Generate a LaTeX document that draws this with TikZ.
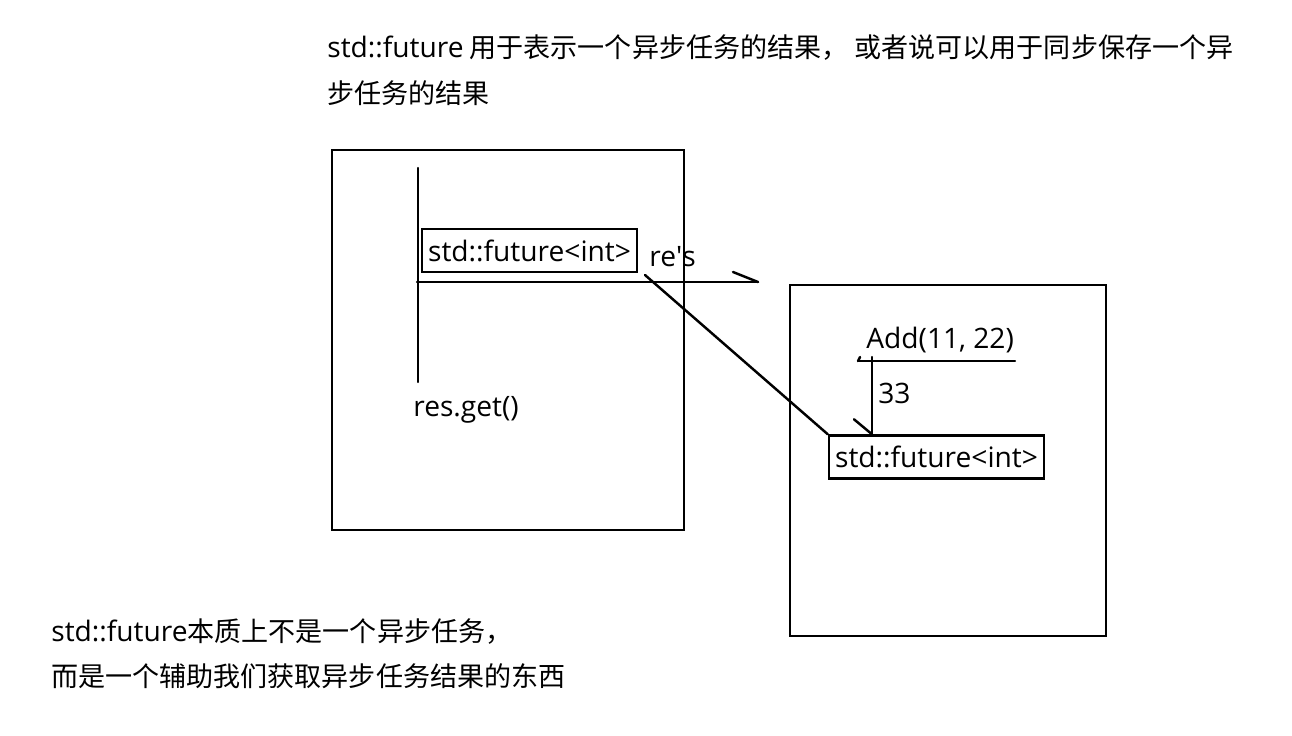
\documentclass[tikz,border=0pt]{standalone}
\usepackage{fontspec}
\setmainfont{Noto Sans CJK SC}
\newfontfamily\lat[Scale=1.04]{Open Sans}
\usepackage{tikz}
\usetikzlibrary{calc,arrows.meta,shapes.geometric}

\tikzset{
  pen/.style={line width=1.4pt, line cap=round},
  txt/.style={font=\fontsize{15.4pt}{18pt}\selectfont, inner sep=0pt, anchor=west},
  futbox/.style={draw, line width=1.4pt, inner sep=0pt, minimum width=4.3cm,
    minimum height=0.86cm, font=\fontsize{15.4pt}{18pt}\selectfont\lat}
}

\begin{document}
\begin{tikzpicture}[x=0.02cm, y=-0.02cm]
    \useasboundingbox (0,0) rectangle (1292,735);
    % notes
    \node[txt] (noteA) at (327,48) {{\lat std::future} 用于表示一个异步任务的结果， 或者说可以用于同步保存一个异};
    \node[txt] (noteB) at (327,93) {步任务的结果};
    \node[txt] (noteC) at (51,632) {{\lat std::future}本质上不是一个异步任务，};
    \node[txt] (noteD) at (51,676) {而是一个辅助我们获取异步任务结果的东西};
    % caller thread
    \draw[pen] (332,150) rectangle (684,530);
    \coordinate (vTop) at (418,168);
    \coordinate (vBot) at (418,382);
    \coordinate (hL) at (417,282);
    \coordinate (hR) at (758,282);
    \draw[pen] (vTop) -- (vBot);
    \draw[pen] (hL) -- (hR);
    \draw[pen] (hR) -- ++(-25,-10);
    \node[futbox] (futL) at (529.5,250.5) {std::future<int>};
    \node[txt] (res) at (649,257) {\lat re\textquotesingle s};
    \node[txt] (get) at (413,410) {\lat res.get()};
    % task thread
    \draw[pen] (790,285) rectangle (1106,636);
    \node[txt] (add) at (866,340) {\lat Add(11, 22)};
    \coordinate (uL) at (858,361);
    \coordinate (uR) at (1015,361);
    \draw[pen] (uL) -- (uR);
    \draw[pen] (uL) -- ++(2,-4);
    \node[futbox] (futR) at (936.5,457) {std::future<int>};
    \coordinate (rTop) at (872,357);
    \draw[pen] (rTop) -- (rTop |- futR.north);
    \draw[pen] (rTop |- futR.north) -- ++(-18,-15);
    \node[txt] (val) at (878,393) {\lat 33};
    % link between the two futures
    \coordinate (lnk) at (645,275);
    \draw[pen] (lnk) -- (futR.north west);
\end{tikzpicture}
\end{document}
